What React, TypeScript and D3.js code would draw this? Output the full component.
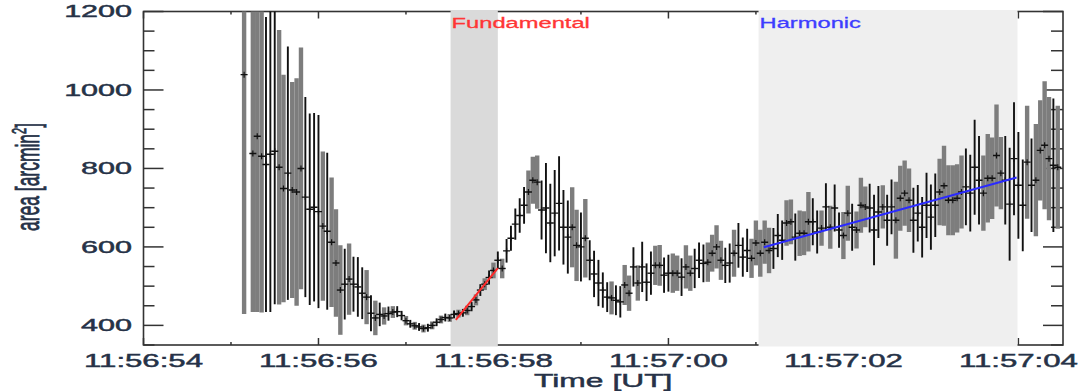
import React from 'react';
import * as d3 from 'd3';

// time of first sample, seconds after 11:56:54 UT, and sampling cadence (s)
const T_START = 1.15;
const CADENCE = 0.05;

// source area [arcmin^2] per sample (null = no sample)
const areaValues: (number | null)[] = [
  1039, null, 838, 882, 831, 810, 836, 844, 803, 749,
  788, 745, 740, 800, 727, 696, 701, 690, 653, 640,
  612, 559, 490, 505, 518, 505, 498, 482, 472, 431,
  419, 428, 424, 430, 434, 435, 425, 412, 404, 399,
  396, 392, 394, 400, 408, 415, 420, 419, 428, 430,
  432, 438, 448, 465, 490, 505, 522, 540, 566, 545,
  590, 622, 658, 680, 706, 740, 770, 765, 694, 699,
  661, 686, 711, 650, 625, 650, 604, 600, 622, 566,
  531, 508, 490, 472, 470, 464, 460, 503, 482, 549,
  508, 549, 510, 533, 553, 553, 528, 533, 533, 533,
  523, 549, 533, 545, 566, 558, 561, 584, 600, 566,
  553, 559, 584, 604, 574, 591, 571, 610, 584, 612,
  591, 596, 629, 617, 661, 664, 625, 635, 635, 664,
  664, 638, 648, 702, 650, 699, 643, 629, 686, 650,
  643, 706, 702, 699, 643, 689, 702, 668, 702, 668,
  724, 737, 719, 668, 686, 650, 706, 676, 706, 740,
  756, 719, 719, 724, 740, 753, 737, 803, 770, 737,
  775, 775, 833, 788, 770, 709, 825, 757, 706, 816,
  757, 770, 846, 859, 825, 808, 803,
];

// 1-sigma error per sample
const areaErrors: number[] = [
  610, 0, 404, 448, 398, 376, 402, 390, 350, 290,
  323, 275, 290, 308, 255, 244, 240, 246, 190, 200,
  165, 137, 114, 90, 91, 70, 76, 66, 69, 46,
  44, 30, 22, 18, 15, 14, 12, 12, 10, 10,
  10, 10, 10, 10, 10, 10, 10, 10, 10, 10,
  10, 12, 12, 14, 15, 15, 18, 20, 22, 25,
  30, 32, 40, 44, 47, 55, 60, 68, 75, 115,
  100, 110, 120, 95, 93, 102, 91, 88, 100, 51,
  59, 59, 45, 38, 42, 38, 40, 51, 45, 50,
  45, 64, 48, 55, 50, 52, 45, 47, 50, 45,
  48, 55, 45, 50, 45, 48, 50, 47, 55, 50,
  45, 50, 60, 57, 50, 55, 50, 57, 60, 55,
  58, 52, 55, 50, 58, 57, 60, 58, 56, 76,
  60, 55, 45, 60, 55, 60, 45, 60, 70, 60,
  47, 70, 52, 62, 90, 66, 55, 65, 70, 98,
  83, 83, 81, 83, 72, 77, 83, 83, 81, 85,
  102, 89, 89, 87, 93, 98, 98, 121, 113, 96,
  113, 104, 130, 92, 113, 144, 144, 136, 117, 144,
  119, 143, 128, 163, 157, 170, 157,
];

// 1 = error bar drawn in black, 0 = grey
const barShade =
  '000001110010001111010001011101010101' +
  '101010101010101010101010' +
  '11111000111111' +
  '1001011111011001011100110010011100001' +
  '1011100000111001000110101100100011101' +
  '100001111110000001111000001111101000010';

const xTickSeconds = [0, 2, 4, 6, 8, 10];
const xTickLabels = ['11:56:54', '11:56:56', '11:56:58', '11:57:00', '11:57:02', '11:57:04'];
const xMinorSeconds = [1, 3, 5, 7, 9];
const yTickValues = [400, 600, 800, 1000, 1200];
const yMinorValues = [350, 450, 500, 550, 650, 700, 750, 850, 900, 950, 1050, 1100, 1150];

const fundamentalBand = [3.51, 4.05];
const harmonicBand = [7.03, 9.99];
const fundamentalFit: [number, number][] = [[3.57, 414], [4.05, 546]];
const harmonicFit: [number, number][] = [[7.09, 599], [9.98, 777]];

export default function App() {
  const W = 1080, H = 391;
  const L = 143.5, R = 1063, T = 11.5, B = 345;
  const x = d3.scaleLinear().domain([0, 10.51]).range([L, R]);
  const y = d3.scaleLinear().domain([350, 1200]).range([B, T]);

  const pts = areaValues
    .map((v, i) => (v == null ? null : { t: T_START + i * CADENCE, v, e: areaErrors[i], dark: barShade[i] === '1' }))
    .filter((p): p is { t: number; v: number; e: number; dark: boolean } => p !== null);

  const line = d3.line<[number, number]>().x(d => x(d[0])).y(d => y(d[1]));
  const font = "'Liberation Sans', Arial, Helvetica, sans-serif";
  const labelColor = '#263247';
  const axisColor = '#333';
  const textStroke = { stroke: labelColor, strokeWidth: 0.45 };

  return (
    <svg width={W} height={H} style={{ position: 'absolute', left: 0, top: 0, background: '#fff' }} fontFamily={font}>
      <defs>
        <clipPath id="plotclip">
          <rect x={L} y={T} width={R - L} height={B - T} />
        </clipPath>
      </defs>
      <rect x={0} y={0} width={W} height={H} fill="#fff" />

      {/* frame */}
      <rect x={L} y={T} width={R - L} height={B - T} fill="none" stroke={axisColor} strokeWidth={1.6} />

      {/* y ticks */}
      {yTickValues.map(v => (
        <g key={'yt' + v}>
          <line x1={L} x2={L + 20} y1={y(v)} y2={y(v)} stroke={axisColor} strokeWidth={1.5} />
          <line x1={R} x2={R - 20} y1={y(v)} y2={y(v)} stroke={axisColor} strokeWidth={1.5} />
        </g>
      ))}
      {yMinorValues.map(v => (
        <g key={'ym' + v}>
          <line x1={L} x2={L + 11} y1={y(v)} y2={y(v)} stroke={axisColor} strokeWidth={1.5} />
          <line x1={R} x2={R - 12} y1={y(v)} y2={y(v)} stroke={axisColor} strokeWidth={1.5} />
        </g>
      ))}
      {/* x ticks */}
      {xTickSeconds.map(s => (
        <g key={'xt' + s}>
          <line x1={x(s)} x2={x(s)} y1={B} y2={B - 7} stroke={axisColor} strokeWidth={1.5} />
          <line x1={x(s)} x2={x(s)} y1={T} y2={T + 7} stroke={axisColor} strokeWidth={1.5} />
        </g>
      ))}
      {xMinorSeconds.map(s => (
        <g key={'xm' + s}>
          <line x1={x(s)} x2={x(s)} y1={B} y2={B - 3} stroke={axisColor} strokeWidth={1.5} />
          <line x1={x(s)} x2={x(s)} y1={T} y2={T + 3} stroke={axisColor} strokeWidth={1.5} />
        </g>
      ))}

      {/* shaded intervals (drawn over the top/bottom axis lines) */}
      <rect x={x(fundamentalBand[0])} y={T - 1.5} width={x(fundamentalBand[1]) - x(fundamentalBand[0])} height={B - T + 3} fill="#dadada" />
      <rect x={x(harmonicBand[0])} y={T - 1.5} width={x(harmonicBand[1]) - x(harmonicBand[0])} height={B - T + 3} fill="#efefef" />

      {/* error bars */}
      <g clipPath="url(#plotclip)">
        {pts.filter(p => !p.dark).map((p, i) => (
          <line key={'g' + i} x1={x(p.t)} x2={x(p.t)} y1={y(p.v - p.e)} y2={y(p.v + p.e)} stroke="#7d7d7d" strokeWidth={4.4} />
        ))}
        {pts.filter(p => p.dark).map((p, i) => (
          <line key={'k' + i} x1={x(p.t)} x2={x(p.t)} y1={y(p.v - p.e)} y2={y(p.v + p.e)} stroke="#111" strokeWidth={1.9} />
        ))}
        {pts.map((p, i) => (
          <g key={'m' + i}>
            <line x1={x(p.t) - 3.5} x2={x(p.t) + 3.5} y1={y(p.v)} y2={y(p.v)} stroke="#111" strokeWidth={1.4} />
            <line x1={x(p.t)} x2={x(p.t)} y1={y(p.v) - 3} y2={y(p.v) + 3} stroke="#111" strokeWidth={1.2} />
          </g>
        ))}
        <path d={line(fundamentalFit) || ''} stroke="#ff2a2a" strokeWidth={2} fill="none" />
        <path d={line(harmonicFit) || ''} stroke="#2a2aff" strokeWidth={2} fill="none" />
      </g>

      {/* interval labels */}
      <text transform={`translate(${x(fundamentalBand[0]) + 1},28) scale(1.58,1)`} fontSize={15} fill="#ff3535" stroke="#ff3535" strokeWidth={0.3}>Fundamental</text>
      <text transform={`translate(${x(harmonicBand[0]) + 1},28) scale(1.58,1)`} fontSize={15} fill="#3d3dff" stroke="#3d3dff" strokeWidth={0.3}>Harmonic</text>

      {/* y tick labels */}
      {yTickValues.map(v => (
        <text key={'yl' + v} transform={`translate(132,${y(v)}) scale(1.85,1)`} textAnchor="end" dominantBaseline="central" fontSize={16.5} fill={labelColor} {...textStroke}>{v}</text>
      ))}
      {/* x tick labels */}
      {xTickSeconds.map((s, i) => (
        <text key={'xl' + s} transform={`translate(${x(s)},367) scale(1.78,1)`} textAnchor="middle" fontSize={17.5} fill={labelColor} {...textStroke}>{xTickLabels[i]}</text>
      ))}
      {/* axis titles */}
      <text transform={`translate(${(L + R) / 2},386.5) scale(1.72,1)`} textAnchor="middle" fontSize={18.5} fill={labelColor} {...textStroke}>Time [UT]</text>
      <text transform={`translate(39,177) scale(1.9,1) rotate(-90)`} textAnchor="middle" fontSize={17.5} fill={labelColor} {...textStroke}>
        area [arcmin<tspan fontSize={11} dy={-7}>2</tspan><tspan dy={7}>]</tspan>
      </text>
    </svg>
  );
}
